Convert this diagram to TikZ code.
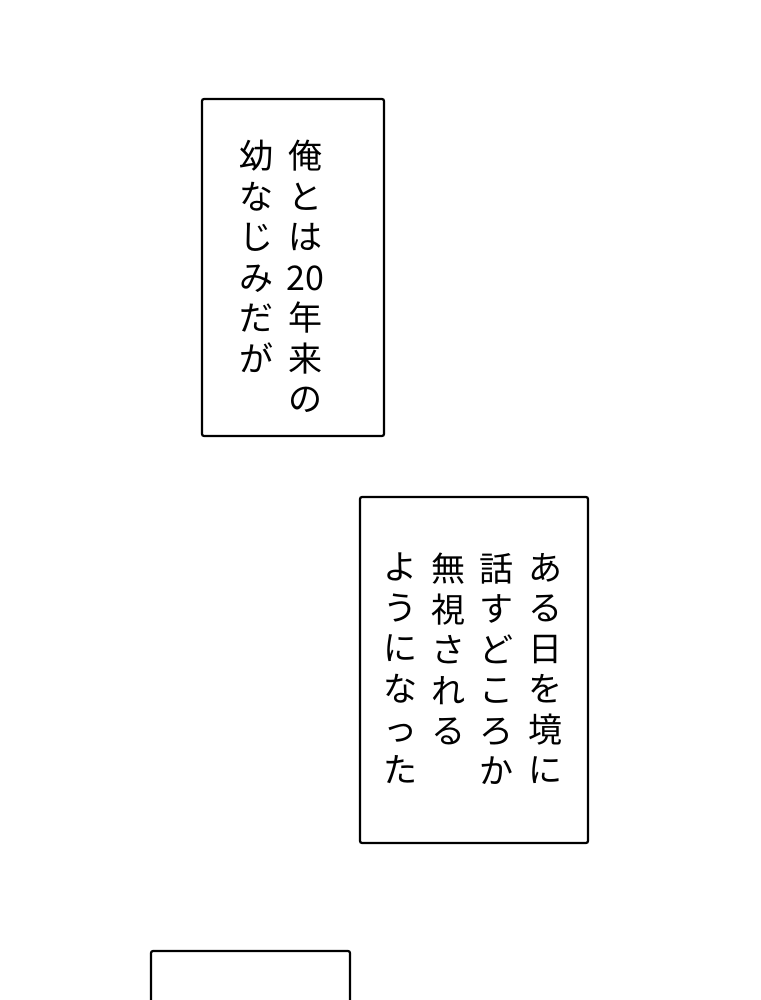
\documentclass[tikz,border=0pt]{standalone}
\usepackage{fontspec}
\newfontfamily\cjk{Noto Sans CJK JP}
\tikzset{
  panel/.style={draw=black,line width=2.2pt,rounded corners=2pt,fill=white},
  tate/.style={font=\cjk\fontsize{34}{40.5}\selectfont,align=center,anchor=north,inner sep=0pt}
}
\begin{document}
\begin{tikzpicture}[x=1pt,y=-1pt]
\useasboundingbox[fill=white] (0,0) rectangle (760,1000);
\begin{scope}
\clip (0,0) rectangle (760,1000);
\draw[panel] (202,99) rectangle (384,436);
\node[tate] (kore) at (305,140) {俺\\と\\は\\20\\年\\来\\の};
\node[tate] (osana) at (256,140) {幼\\な\\じ\\み\\だ\\が};
\draw[panel] (360,497) rectangle (588,843);
\node[tate] (aruhi) at (545,553) {あ\\る\\日\\を\\境\\に};
\node[tate] (hanasu) at (496,553) {話\\す\\ど\\こ\\ろ\\か};
\node[tate] (mushi) at (448,553) {無\\視\\さ\\れ\\る};
\node[tate] (youni) at (400,553) {よ\\う\\に\\な\\っ\\た};
\draw[panel] (151,951) rectangle (350,1040);
\end{scope}
\end{tikzpicture}
\end{document}
